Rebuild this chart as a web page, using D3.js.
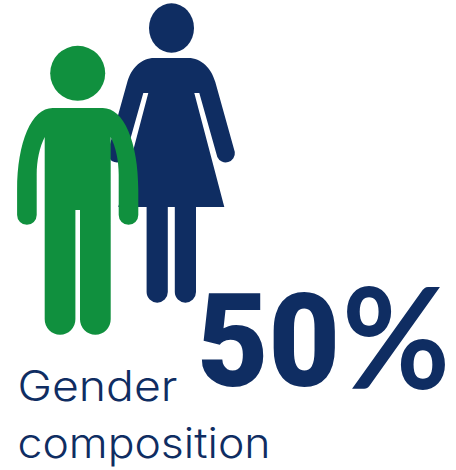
<!DOCTYPE html>
<html>
<head>
<meta charset="utf-8">
<script src="https://cdn.jsdelivr.net/npm/d3@7/dist/d3.min.js"></script>
<style>
html,body{margin:0;padding:0;background:#fff;}
svg{display:block;}
text{font-variant-ligatures:none;}
</style>
</head>
<body>
<svg id="chart" width="456" height="470"></svg>
<script>
// Headline figure and caption
const sharePercent = [50];
const captionLines = ["Gender", "composition"];
const figureColors = { man: "#10903e", woman: "#0f2d62" };
const textColor = "#0f2d62";

// Half outlines of each pictogram, in figure units, mirrored about x = 0.
// Each step: ["L", x, y], ["C", x1, y1, x2, y2, x, y] or ["A", r, x, y].
const womanHalf = [
  ["L", 0, 0], ["L", 17, 0],
  ["C", 30, 0, 40, 10, 44, 24],
  ["L", 63.5, 94],
  ["A", 9.2, 46, 99],
  ["L", 28, 35], ["L", 23, 35],
  ["L", 53, 149], ["L", 24.7, 149],
  ["L", 24.7, 234.1],
  ["A", 10.6, 3.5, 234.1],
  ["L", 3.5, 149], ["L", 0, 149]
];
const manHalf = [
  ["L", 0, 0], ["L", 25, 0],
  ["C", 46, 0, 60.6, 34, 60.6, 82],
  ["L", 60.6, 107],
  ["A", 9.8, 41, 107],
  ["L", 41, 67],
  ["C", 41, 52, 38, 39, 33, 29],
  ["L", 33, 211.3],
  ["A", 15.35, 2.3, 211.3],
  ["L", 2.3, 102], ["L", 0, 102]
];

const svg = d3.select("#chart");

// Traces one half outward, then its mirror image back, through linear scales.
function toPath(half, cx, top) {
  const x = d3.scaleLinear().domain([0, 100]).range([cx, cx + 100]);
  const y = d3.scaleLinear().domain([0, 100]).range([top, top + 100]);
  let right = `M${x(half[0][1])},${y(half[0][2])}`;
  half.slice(1).forEach(s => {
    if (s[0] === "L") right += `L${x(s[1])},${y(s[2])}`;
    if (s[0] === "C") right += `C${x(s[1])},${y(s[2])} ${x(s[3])},${y(s[4])} ${x(s[5])},${y(s[6])}`;
    if (s[0] === "A") right += `A${s[1]},${s[1]} 0 0 1 ${x(s[2])},${y(s[3])}`;
  });
  const mx = v => x(-v);
  let left = "";
  for (let i = half.length - 1; i > 0; i--) {
    const s = half[i], prev = half[i - 1];
    const end = prev[0] === "C" ? [prev[5], prev[6]] : prev[0] === "A" ? [prev[2], prev[3]] : [prev[1], prev[2]];
    if (s[0] === "L") left += `L${mx(end[0])},${y(end[1])}`;
    if (s[0] === "C") left += `C${mx(s[3])},${y(s[4])} ${mx(s[1])},${y(s[2])} ${mx(end[0])},${y(end[1])}`;
    if (s[0] === "A") left += `A${s[1]},${s[1]} 0 0 1 ${mx(end[0])},${y(end[1])}`;
  }
  return right + left + "Z";
}

// Woman stands behind, man in front.
const woman = svg.append("g").attr("fill", figureColors.woman);
woman.append("ellipse").attr("cx", 171.5).attr("cy", 28).attr("rx", 22.5).attr("ry", 24.7);
woman.append("path").attr("d", toPath(womanHalf, 171.3, 58));

const man = svg.append("g").attr("fill", figureColors.man);
man.append("circle").attr("cx", 77.7).attr("cy", 73.3).attr("r", 27.5);
man.append("path").attr("d", toPath(manHalf, 77.7, 108));

// Large percentage: heavy digits with a lighter percent sign
svg.append("text")
  .attr("x", 197).attr("y", 386)
  .attr("font-family", "Roboto, Lato, sans-serif")
  .attr("font-weight", 900).attr("font-size", 130)
  .attr("fill", textColor)
  .attr("textLength", 143).attr("lengthAdjust", "spacingAndGlyphs")
  .text(sharePercent[0]);
svg.append("text")
  .attr("x", 342).attr("y", 389)
  .attr("font-family", "Lato, sans-serif")
  .attr("font-weight", 700).attr("font-size", 140)
  .attr("fill", textColor)
  .attr("textLength", 108).attr("lengthAdjust", "spacingAndGlyphs")
  .text("%");

// Caption
const captionY = [401, 458], captionW = [160, 253];
svg.selectAll("text.caption").data(captionLines).join("text")
  .attr("class", "caption")
  .attr("x", 17.5).attr("y", (d, i) => captionY[i])
  .attr("font-family", "Inter, Lato, sans-serif")
  .attr("font-weight", 300).attr("font-size", 42)
  .attr("fill", textColor)
  .attr("textLength", (d, i) => captionW[i]).attr("lengthAdjust", "spacingAndGlyphs")
  .text(d => d);
</script>
</body>
</html>
